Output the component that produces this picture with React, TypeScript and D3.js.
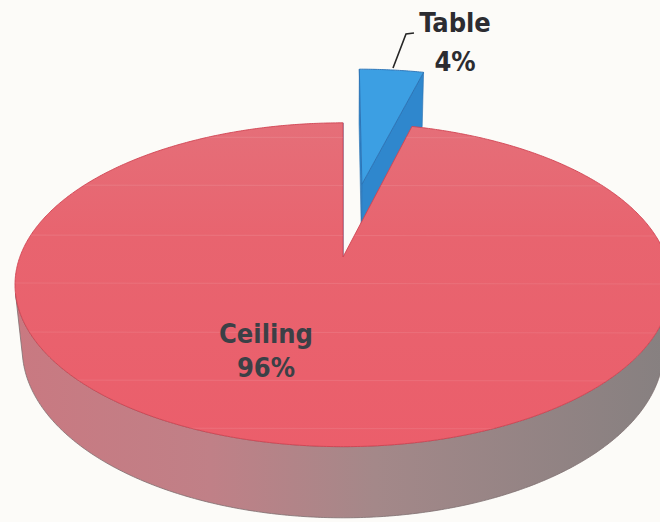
import React from "react";
import * as d3 from "d3";

// ---- data ----
const categories = ["Table", "Ceiling"];
const values = [4, 96];
const explodeFractions = [0.507, 0];
const topColors = ["#3c9fe3", "#ea616d"];
const sideColors = ["#2f87cd", "url(#wallGrad)"];
const labelOffsets = [
  { dx: 112, dy: -225 }, // Table label relative to pie centre
  { dx: -77, dy: 86 },   // Ceiling label relative to pie centre
];
const labelSizes = [27, 27];
const labelGaps = [39, 34];
const scanLines = [137, 185, 235, 283, 332, 380, 428];

// ---- layout / camera ----
const W = 660;
const H = 522;
const cx = 343;
const cy = 257;
const F = 1648;
const D = 5.1;
const ELEV = (29.1 * Math.PI) / 180;
const DEPTH = 0.229;
const sinE = Math.sin(ELEV);
const cosE = Math.cos(ELEV);
const CAM = [0, D * sinE, -D * cosE];

function project(X: number, Y: number, Z: number): [number, number] {
  const yc = Y * cosE + Z * sinE;
  const zc = D + Z * cosE - Y * sinE;
  return [cx + (F * X) / zc, cy - (F * yc) / zc];
}

function visible(P: number[], n: number[]) {
  return (CAM[0] - P[0]) * n[0] + (CAM[1] - P[1]) * n[1] + (CAM[2] - P[2]) * n[2] > 0;
}

export default function App() {
  const pie = d3.pie<number>().sort(null).value((d) => d);
  const arcs = pie(values);
  const line = d3.line<[number, number]>().curve(d3.curveLinearClosed);
  const step = Math.PI / 360;

  const slices = arcs.map((a, i) => {
    const mid = (a.startAngle + a.endAngle) / 2;
    const ox = explodeFractions[i] * Math.sin(mid);
    const oz = explodeFractions[i] * Math.cos(mid);
    const angles = d3.range(a.startAngle, a.endAngle, step).concat([a.endAngle]);
    const pt = (ang: number, Y: number) => project(ox + Math.sin(ang), Y, oz + Math.cos(ang));

    const top: [number, number][] = [project(ox, 0, oz), ...angles.map((g) => pt(g, 0))];

    const faces: { d: string; fill: string }[] = [];
    [
      { ang: a.startAngle, sign: -1 },
      { ang: a.endAngle, sign: 1 },
    ].forEach(({ ang, sign }) => {
      const n = [sign * Math.cos(ang), 0, -sign * Math.sin(ang)];
      if (values.length > 1 && visible([ox, 0, oz], n)) {
        const poly: [number, number][] = [
          project(ox, 0, oz),
          pt(ang, 0),
          pt(ang, -DEPTH),
          project(ox, -DEPTH, oz),
        ];
        faces.push({ d: line(poly) || "", fill: i === 1 ? "#b07c80" : sideColors[i] });
      }
    });
    let run: number[] = [];
    const runs: number[][] = [];
    angles.forEach((g) => {
      const P = [ox + Math.sin(g), 0, oz + Math.cos(g)];
      const n = [Math.sin(g), 0, Math.cos(g)];
      if (visible(P, n)) run.push(g);
      else if (run.length) {
        runs.push(run);
        run = [];
      }
    });
    if (run.length) runs.push(run);
    const walls = runs
      .filter((r) => r.length > 1)
      .map((r) => {
        const poly: [number, number][] = [
          ...r.map((g) => pt(g, 0)),
          ...r.slice().reverse().map((g) => pt(g, -DEPTH)),
        ];
        return line(poly) || "";
      });

    const depth = oz + Math.cos(mid) * 0.5;
    return { i, top: line(top) || "", faces, walls, depth };
  });

  const order = slices.slice().sort((p, q) => q.depth - p.depth);
  const total = d3.sum(values);
  const ceiling = slices[1];

  return (
    <svg
      width={W}
      height={H}
      style={{ position: "absolute", left: 0, top: 0 }}
      xmlns="http://www.w3.org/2000/svg"
    >
      <defs>
        <linearGradient id="wallGrad" gradientUnits="userSpaceOnUse" x1={14} y1={0} x2={670} y2={0}>
          <stop offset="0" stopColor="#c97981" />
          <stop offset="0.3" stopColor="#c08087" />
          <stop offset="0.55" stopColor="#a48889" />
          <stop offset="1" stopColor="#868080" />
        </linearGradient>
        <linearGradient id="topGrad" gradientUnits="userSpaceOnUse" x1={0} y1={120} x2={0} y2={450}>
          <stop offset="0" stopColor="#e56f79" />
          <stop offset="0.35" stopColor="#e8646f" />
          <stop offset="1" stopColor="#eb5e6b" />
        </linearGradient>
        <clipPath id="ceilClip">
          <path d={ceiling.top} />
        </clipPath>
      </defs>
      <rect x={0} y={0} width={W} height={H} fill="#fcfbf8" />
      {order.map((s) => (
        <g key={categories[s.i]}>
          {s.walls.map((d, k) => (
            <path key={"w" + k} d={d} fill={sideColors[s.i]} stroke={s.i === 1 ? "#7d6e70" : "#2a6fae"} strokeWidth={0.8} />
          ))}
          {s.faces.map((f, k) => (
            <path key={"f" + k} d={f.d} fill={f.fill} stroke="#2a6fae" strokeWidth={0.6} />
          ))}
          <path
            d={s.top}
            fill={s.i === 1 ? "url(#topGrad)" : topColors[s.i]}
            stroke={s.i === 1 ? "#d04452" : "#2a72b4"}
            strokeWidth={0.9}
          />
        </g>
      ))}
      <g clipPath="url(#ceilClip)">
        {scanLines.map((y) => (
          <line key={"s" + y} x1={0} x2={W} y1={y} y2={y + 1} stroke="#ffffff" strokeOpacity={0.09} strokeWidth={1.2} />
        ))}
      </g>
      <path d="M393,68 L406,34 L414,33" fill="none" stroke="#262626" strokeWidth={1.6} />
      {arcs.map((a, i) => {
        const x = cx + labelOffsets[i].dx;
        const y = cy + labelOffsets[i].dy;
        const pct = Math.round((values[i] / total) * 100);
        return (
          <text
            key={"lbl" + i}
            x={x}
            y={y}
            textAnchor="middle"
            fontFamily="'DejaVu Sans Condensed', 'DejaVu Sans', sans-serif"
            fontStretch="condensed"
            fontWeight={700}
            fontSize={labelSizes[i]}
            fill={i === 0 ? "#2c2c31" : "#3b4046"}
          >
            <tspan x={x} dy={0}>{categories[i]}</tspan>
            <tspan x={x} dy={labelGaps[i]}>{pct + "%"}</tspan>
          </text>
        );
      })}
    </svg>
  );
}
